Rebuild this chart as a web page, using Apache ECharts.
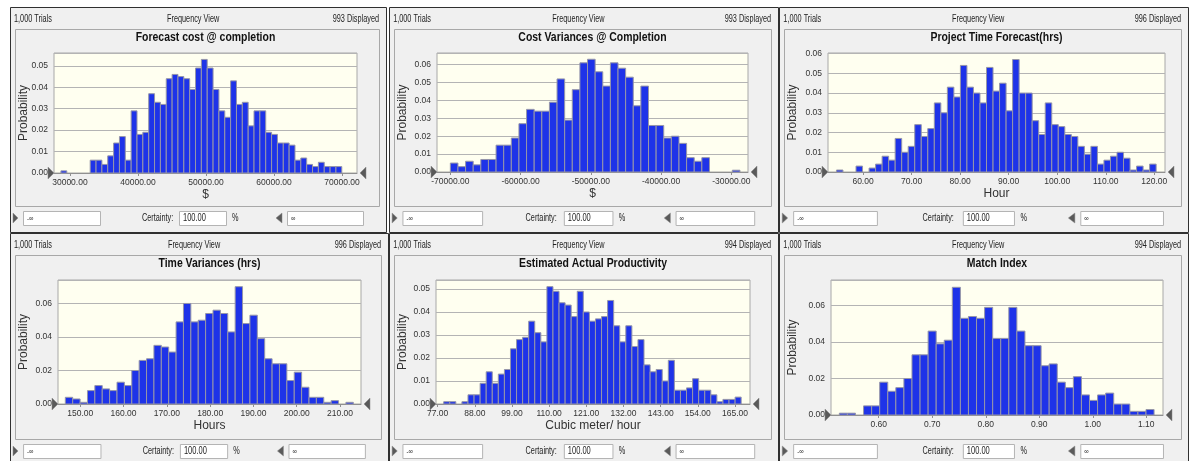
<!DOCTYPE html>
<html>
<head>
<meta charset="utf-8">
<script src="https://cdn.jsdelivr.net/npm/echarts@6/dist/echarts.min.js"></script>
<style>
  html, body { margin: 0; padding: 0; background: #fff; }
  #chart { width: 1189px; height: 461px; }
</style>
</head>
<body>
<div id="chart"></div>
<script>
// probability of each bin
const costCompletion = [0.001, 0, 0, 0, 0,
  0.006, 0.006, 0.004, 0.008, 0.014, 0.017, 0.006, 0.029, 0.018, 0.019,
  0.037, 0.033, 0.032, 0.044, 0.046, 0.045, 0.044, 0.039, 0.049, 0.053,
  0.049, 0.039, 0.029, 0.026, 0.043, 0.032, 0.033, 0.022, 0.029, 0.029,
  0.019, 0.018, 0.014, 0.014, 0.013, 0.006, 0.007, 0.004, 0.003, 0.005,
  0.003, 0.003, 0.003];
const costVariance = [0.005, 0.003, 0.006, 0.004, 0.007, 0.007, 0.015, 0.015, 0.019, 0.027,
  0.035, 0.034, 0.034, 0.039, 0.052, 0.029, 0.046, 0.061, 0.063, 0.056,
  0.048, 0.061, 0.058, 0.053, 0.037, 0.048, 0.026, 0.026, 0.019, 0.020,
  0.016, 0.008, 0.006, 0.008, 0, 0, 0, 0.001];
const timeForecast = [0.001, 0, 0, 0.003, 0,
  0.002, 0.004, 0.008, 0.006, 0.017, 0.010, 0.013, 0.024, 0.018, 0.022,
  0.035, 0.030, 0.043, 0.038, 0.054, 0.043, 0.040, 0.035, 0.053, 0.041,
  0.045, 0.031, 0.057, 0.040, 0.040, 0.026, 0.019, 0.035, 0.024, 0.023,
  0.019, 0.018, 0.013, 0.009, 0.013, 0.004, 0.006, 0.008, 0.010, 0.007,
  0.001, 0.003, 0.001, 0.004];
const timeVariance = [0.004, 0.003, 0.001, 0.008, 0.011, 0.009, 0.008, 0.013, 0.011, 0.020,
  0.026, 0.027, 0.035, 0.034, 0.031, 0.049, 0.060, 0.049, 0.050, 0.054,
  0.056, 0.054, 0.043, 0.070, 0.048, 0.053, 0.039, 0.027, 0.024, 0.024,
  0.014, 0.019, 0.010, 0.004, 0.004, 0.001, 0.002, 0, 0.001];
const productivity = [0.001, 0.001, 0, 0.001, 0.004, 0.004, 0.009, 0.014, 0.009, 0.013,
  0.015, 0.024, 0.028, 0.029, 0.036, 0.031, 0.027, 0.051, 0.049, 0.044,
  0.043, 0.038, 0.049, 0.040, 0.036, 0.037, 0.038, 0.045, 0.034, 0.027,
  0.034, 0.025, 0.028, 0.017, 0.014, 0.015, 0.010, 0.019, 0.006, 0.006,
  0.007, 0.011, 0.006, 0.006, 0.004, 0.001, 0.002, 0.002, 0.003];
const matchIndex = [0.001, 0.001, 0,
  0.005, 0.005, 0.018, 0.013, 0.015, 0.020, 0.033, 0.033, 0.046, 0.039,
  0.041, 0.070, 0.053, 0.054, 0.053, 0.059, 0.042, 0.042, 0.059, 0.046,
  0.038, 0.038, 0.027, 0.028, 0.018, 0.015, 0.021, 0.011, 0.008, 0.011,
  0.012, 0.006, 0.006, 0.002, 0.002, 0.003];

// first bin edge, bin width
const costCompletionBins = [28680, 860];
const costVarianceBins = [-70000, 1085];
const timeForecastBins = [54.52, 1.344];
const timeVarianceBins = [146.54, 1.706];
const productivityBins = [78.78, 1.797];
const matchIndexBins = [0.5264, 0.01508];

// x tick labels
const costCompletionTicks = [30000, 40000, 50000, 60000, 70000];
const costVarianceTicks = [-70000, -60000, -50000, -40000, -30000];
const timeForecastTicks = [60, 70, 80, 90, 100, 110, 120];
const timeVarianceTicks = [150, 160, 170, 180, 190, 200, 210];
const productivityTicks = [77, 88, 99, 110, 121, 132, 143, 154, 165];
const matchIndexTicks = [0.6, 0.7, 0.8, 0.9, 1.0, 1.1];

const FONT = "'Liberation Sans', Arial, sans-serif";

const panels = [
  { title: 'Forecast cost @ completion', shown: '993 Displayed', unit: '$',
    probs: costCompletion, bins: costCompletionBins, ticks: costCompletionTicks,
    xMin: 27660, xMax: 72195, yMax: 0.056, yStep: 0.01,
    box: [10, 7, 376, 225], grid: [54, 53, 303, 120] },
  { title: 'Cost Variances @ Completion', shown: '993 Displayed', unit: '$',
    probs: costVariance, bins: costVarianceBins, ticks: costVarianceTicks,
    xMin: -71900, xMax: -27625, yMax: 0.0665, yStep: 0.01,
    box: [389, 7, 389, 225], grid: [437, 53, 311, 119] },
  { title: 'Project Time Forecast(hrs)', shown: '996 Displayed', unit: 'Hour',
    probs: timeForecast, bins: timeForecastBins, ticks: timeForecastTicks,
    xMin: 52.78, xMax: 122.2, yMax: 0.0603, yStep: 0.01,
    box: [779, 7, 409, 225], grid: [828, 53, 337, 119] },
  { title: 'Time Variances (hrs)', shown: '996 Displayed', unit: 'Hours',
    probs: timeVariance, bins: timeVarianceBins, ticks: timeVarianceTicks,
    xMin: 144.85, xMax: 214.85, yMax: 0.074, yStep: 0.02,
    box: [10, 233, 378, 232], grid: [58, 280, 303, 124] },
  { title: 'Estimated Actual Productivity', shown: '994 Displayed', unit: 'Cubic meter/ hour',
    probs: productivity, bins: productivityBins, ticks: productivityTicks,
    xMin: 76.5, xMax: 169.45, yMax: 0.0539, yStep: 0.01,
    box: [389, 233, 389, 232], grid: [436, 280, 314, 124] },
  { title: 'Match Index', shown: '994 Displayed', unit: '',
    probs: matchIndex, bins: matchIndexBins, ticks: matchIndexTicks,
    xMin: 0.5108, xMax: 1.1312, yMax: 0.074, yStep: 0.02,
    box: [779, 233, 409, 232], grid: [831, 280, 332, 135] }
];

function drawBin(params, api) {
  if (!api.value(2)) return null;
  const top = api.coord([api.value(0), api.value(2)]);
  const base = api.coord([api.value(1), 0]);
  return {
    type: 'rect',
    shape: { x: top[0], y: top[1], width: base[0] - top[0], height: base[1] - top[1] },
    style: { fill: '#1e33e8', stroke: '#9696a8', lineWidth: 1 }
  };
}

// the panel texts are condensed, so squeeze them horizontally around their anchor
function txt(x, y, text, font, align, sx) {
  return {
    type: 'text', x: x, y: y, z: 5, scaleX: sx || 0.73, originX: 0, originY: 0,
    style: { text: text, font: font + ' ' + FONT, fill: '#222', align: align, verticalAlign: 'middle' }
  };
}

function tri(pts) {
  return { type: 'polygon', z: 100, shape: { points: pts }, style: { fill: '#5a5a5a', stroke: '#8a8a8a', lineWidth: 0.5 } };
}

function inputBox(x, y, w, text, font) {
  return [
    { type: 'rect', z: 5, shape: { x: x + 0.5, y: y + 0.5, width: w, height: 14 }, style: { fill: '#fff', stroke: '#b4b4b4', lineWidth: 1 } },
    txt(x + 4, y + 7.5, text, font, 'left', 0.75)
  ];
}

const grids = [], xAxes = [], yAxes = [], series = [], graphics = [];

panels.forEach(function (p, i) {
  const [x0, y0, w, h] = p.box;
  const [gl, gt, gw, gh] = p.grid;
  const f = w / 376;

  grids.push({ left: gl, top: gt, width: gw, height: gh, show: true,
    backgroundColor: '#fffff0', borderColor: '#a8a8a8', borderWidth: 1 });

  xAxes.push({
    type: 'value', gridIndex: i, min: p.xMin, max: p.xMax,
    name: p.unit, nameLocation: 'middle', nameGap: 16,
    nameTextStyle: { fontSize: 12, color: '#333', fontFamily: FONT },
    axisLine: { show: true, lineStyle: { color: '#909090' } },
    axisTick: { show: true, customValues: p.ticks, length: 3, lineStyle: { color: '#909090' } },
    axisLabel: { customValues: p.ticks, formatter: v => v.toFixed(2), fontSize: 8.5, margin: 5, color: '#333', fontFamily: FONT },
    splitLine: { show: false }
  });

  yAxes.push({
    type: 'value', gridIndex: i, min: 0, max: p.yMax, interval: p.yStep,
    name: 'Probability', nameLocation: 'middle', nameGap: gl - x0 - 20, nameMoveOverlap: false,
    nameTextStyle: { fontSize: 12, color: '#333', fontFamily: FONT },
    axisLine: { show: false }, axisTick: { show: false },
    axisLabel: { formatter: v => v.toFixed(2), showMaxLabel: false, fontSize: 8.5, margin: 6, color: '#333', fontFamily: FONT },
    splitLine: { lineStyle: { color: '#b4b4b4' } }
  });

  series.push({
    type: 'custom', xAxisIndex: i, yAxisIndex: i, renderItem: drawBin,
    encode: { x: [0, 1], y: 2 },
    data: p.probs.map((v, k) => [p.bins[0] + k * p.bins[1], p.bins[0] + (k + 1) * p.bins[1], v])
  });

  // panel frame
  graphics.push({ type: 'rect', z: -10, shape: { x: x0 + 0.5, y: y0 + 0.5, width: w, height: h },
    style: { fill: '#f0f0f0', stroke: '#303030', lineWidth: 1 } });
  graphics.push({ type: 'rect', z: -9, shape: { x: x0 + 5.5, y: y0 + 22.5, width: w - 12, height: h - 48 },
    style: { fill: 'none', stroke: '#a8a8a8', lineWidth: 1 } });

  // header
  graphics.push(txt(x0 + 4 * f, y0 + 12, '1,000 Trials', '10px', 'left'));
  graphics.push(txt(x0 + 0.487 * w, y0 + 12, 'Frequency View', '10px', 'center'));
  graphics.push(txt(x0 + w - 7, y0 + 12, p.shown, '10px', 'right'));
  const title = txt(gl + gw / 2, y0 + 30.5, p.title, 'bold 12px', 'center', 0.87);
  title.style.fill = '#111';
  graphics.push(title);

  // certainty grabbers at the ends of the axis
  const gb = gt + gh;
  graphics.push(tri([[gl - 6, gb - 6], [gl - 6, gb + 6], [gl, gb]]));
  graphics.push(tri([[gl + gw + 9, gb - 6], [gl + gw + 9, gb + 6], [gl + gw + 3, gb]]));

  // footer
  const fy = y0 + h - 14;
  graphics.push(tri([[x0 + 3 * f, fy - 5], [x0 + 3 * f, fy + 5], [x0 + 8 * f, fy]]));
  graphics.push(...inputBox(x0 + 13 * f, fy - 7, 77 * f, '-\u221e', '8px'));
  graphics.push(txt(x0 + 132 * f, fy, 'Certainty:', '10px', 'left'));
  graphics.push(...inputBox(x0 + 169 * f, fy - 7, 47 * f, '100.00', '10px'));
  graphics.push(txt(x0 + 222 * f, fy, '%', '10px', 'left'));
  graphics.push(tri([[x0 + 272 * f, fy - 5], [x0 + 272 * f, fy + 5], [x0 + 266 * f, fy]]));
  graphics.push(...inputBox(x0 + 277 * f, fy - 7, 76 * f, '\u221e', '8px'));
});

const chart = echarts.init(document.getElementById('chart'));
const option = {
  animation: false,
  grid: grids,
  xAxis: xAxes,
  yAxis: yAxes,
  series: series,
  graphic: { elements: graphics }
};
option && chart.setOption(option);
</script>
</body>
</html>
